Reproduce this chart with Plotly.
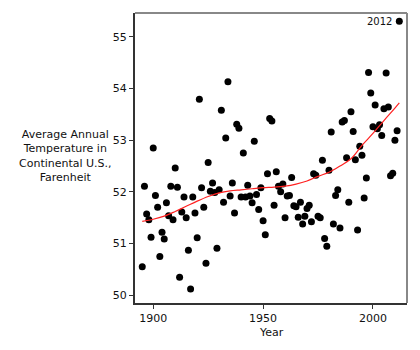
import plotly.graph_objects as go

years = list(range(1895, 2013))
temps = [
    50.55, 52.11, 51.57, 51.46, 51.12, 52.85, 51.93, 51.70, 50.75, 51.22,  # 1895-1904
    51.09, 51.79, 51.54, 52.11, 51.46, 52.46, 52.09, 50.35, 51.61, 51.90,  # 1905-1914
    51.50, 50.87, 50.12, 51.90, 51.59, 51.11, 53.79, 52.08, 51.70, 50.62,  # 1915-1924
    52.57, 52.01, 52.17, 51.99, 50.91, 52.04, 53.58, 51.80, 53.04, 54.13,  # 1925-1934
    51.92, 52.17, 51.59, 53.31, 53.23, 51.90, 52.75, 51.90, 52.13, 51.92,  # 1935-1944
    51.79, 52.98, 51.95, 51.66, 52.08, 51.44, 51.17, 52.35, 53.42, 53.37,  # 1945-1954
    51.74, 52.39, 52.11, 52.00, 52.15, 51.50, 51.92, 51.93, 52.28, 51.73,  # 1955-1964
    51.71, 51.51, 51.80, 51.38, 51.53, 51.68, 51.74, 51.42, 52.35, 52.32,  # 1965-1974
    51.53, 51.50, 52.61, 51.10, 50.95, 52.42, 53.16, 51.38, 51.93, 52.04,  # 1975-1984
    51.30, 53.35, 53.38, 52.66, 51.80, 53.55, 53.17, 52.62, 51.26, 52.88,  # 1985-1994
    52.71, 51.88, 52.27, 54.31, 53.91, 53.26, 53.68, 53.22, 53.30, 53.09,  # 1995-2004
    53.61, 54.30, 53.64, 52.31, 52.36, 53.00, 53.18, 55.30,                # 2005-2012
]

trend_years = [1895, 1900, 1905, 1910, 1915, 1920, 1925, 1930, 1935, 1940, 1945,
               1950, 1955, 1960, 1965, 1970, 1975, 1980, 1985, 1990, 1995, 2000,
               2005, 2010, 2012]
trend_vals = [51.43, 51.47, 51.53, 51.62, 51.72, 51.82, 51.91, 51.98, 52.02, 52.04,
              52.06, 52.08, 52.09, 52.11, 52.15, 52.21, 52.30, 52.38, 52.50, 52.64,
              52.90, 53.13, 53.38, 53.62, 53.72]

x_ticks = [1900, 1950, 2000]
y_ticks = [50, 51, 52, 53, 54, 55]

FONT = "DejaVu Sans"
AX = "#333333"

fig = go.Figure()
fig.add_trace(go.Scatter(
    x=years, y=temps, mode="markers",
    marker=dict(color="black", size=7, line=dict(width=0)),
    hoverinfo="x+y", showlegend=False,
))
fig.add_trace(go.Scatter(
    x=trend_years, y=trend_vals, mode="lines",
    line=dict(color="#ff2020", width=1.2, shape="spline", smoothing=1.0),
    showlegend=False, hoverinfo="skip",
))

fig.update_layout(
    width=420, height=350,
    margin=dict(l=135, r=13, t=13, b=47),
    paper_bgcolor="white", plot_bgcolor="white",
    font=dict(family=FONT, size=11, color="#111111"),
    xaxis=dict(
        range=[1891.7, 2015.5], tickvals=x_ticks, ticktext=[str(v) for v in x_ticks],
        showgrid=False, zeroline=False, showline=True, linecolor=AX, linewidth=2,
        ticks="outside", ticklen=4, tickwidth=1, tickcolor=AX,
        tickfont=dict(family=FONT, size=11, color="#111111"),
    ),
    yaxis=dict(
        range=[49.85, 55.46], tickvals=y_ticks, ticktext=[str(v) for v in y_ticks],
        showgrid=False, zeroline=False, showline=True, linecolor=AX, linewidth=2,
        ticks="outside", ticklen=4, tickwidth=1, tickcolor=AX,
        tickfont=dict(family=FONT, size=11, color="#111111"),
    ),
    shapes=[
        dict(type="line", xref="paper", yref="paper", x0=0, x1=1, y0=1, y1=1,
             line=dict(color="#888888", width=2)),
        dict(type="line", xref="paper", yref="paper", x0=1, x1=1, y0=0, y1=1,
             line=dict(color="#888888", width=2)),
    ],
    annotations=[
        dict(text="Average Annual<br>Temperature in<br>Continental U.S.,<br>Farenheit",
             xref="paper", yref="paper", x=-0.257, y=0.507, xanchor="center",
             yanchor="middle", showarrow=False, align="center",
             font=dict(family=FONT, size=11, color="#111111")),
        dict(text="Year", xref="paper", yref="paper", x=0.5, y=-0.1,
             xanchor="center", yanchor="middle", showarrow=False,
             font=dict(family=FONT, size=11, color="#111111")),
        dict(text=str(years[-1]), x=years[-1], y=temps[-1], xref="x", yref="y",
             xanchor="right", yanchor="middle", xshift=-5, showarrow=False,
             font=dict(family=FONT, size=10, color="#111111")),
    ],
)

fig.write_html("out.html")
